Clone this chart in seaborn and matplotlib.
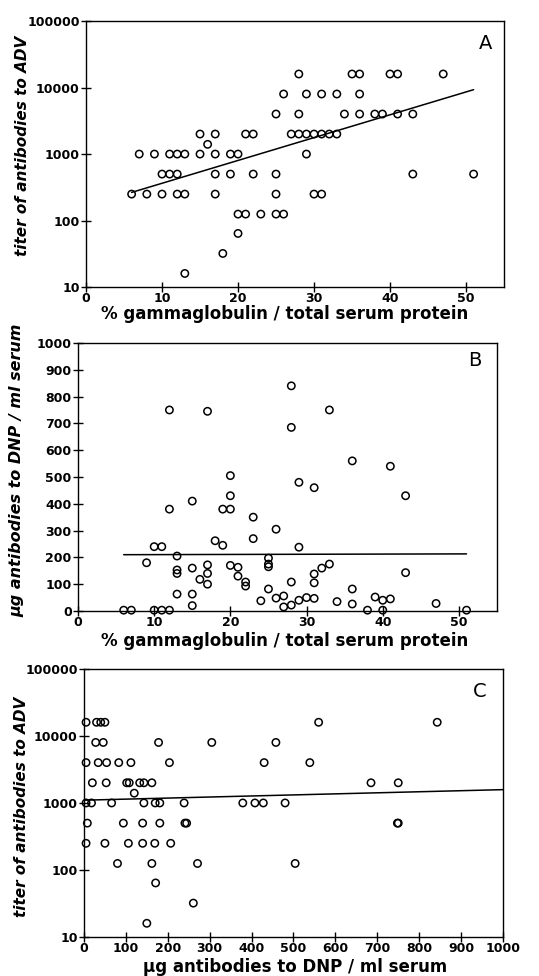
import numpy as np
import pandas as pd
import matplotlib
matplotlib.use("Agg")
import matplotlib.pyplot as plt
import seaborn as sns
from matplotlib.ticker import FixedLocator, NullLocator

# ---------------- data ----------------
# Panel A: % gammaglobulin vs titer of antibodies to ADV
a_gamma = [28, 35, 36, 40, 41, 47,
           26, 29, 31, 33, 36,
           25, 28, 34, 36, 38, 39, 41, 43,
           15, 17, 21, 22, 27, 28, 29, 30, 31, 32, 33,
           16,
           7, 9, 11, 12, 13, 15, 17, 19, 20, 29,
           10, 11, 12, 17, 19, 22, 25, 43, 51,
           6, 8, 10, 12, 13, 17, 25, 30, 31,
           20, 21, 23, 25, 26,
           20, 18, 13]
a_titer = [16000] * 6 + [8000] * 5 + [4000] * 8 + [2000] * 11 + [1400] + \
          [1000] * 10 + [500] * 9 + [250] * 9 + [125] * 5 + [64, 32, 16]
a_fit_x = [6, 51]
a_fit_y = [265, 9300]

# Panel B: % gammaglobulin vs ug antibodies to DNP / ml serum
b_gamma = [12, 17, 28, 33, 28, 36, 41,
           20, 29, 31, 43, 20, 15, 12, 19, 20, 23, 26, 18, 19, 23,
           10, 11, 29, 13, 9, 25, 25, 25, 15, 17, 17, 17, 16, 20, 21, 21,
           13, 13, 22, 22, 33, 32, 31, 31, 28, 43, 13, 15, 25, 36, 26, 27,
           30, 31, 29, 24, 34, 39, 40, 41, 36, 47, 15, 27, 28,
           6, 7, 10, 11, 12, 38, 40, 51]
b_dnp = [750, 745, 840, 750, 685, 560, 540,
         505, 480, 460, 430, 430, 410, 380, 380, 380, 350, 305, 262, 245, 270,
         240, 240, 238, 205, 180, 197, 175, 165, 160, 172, 140, 100, 118, 170, 163, 130,
         153, 140, 108, 93, 175, 160, 138, 105, 108, 143, 63, 63, 82, 82, 48, 56,
         50, 47, 40, 38, 35, 52, 40, 45, 26, 28, 20, 15, 22,
         3, 3, 3, 3, 3, 3, 3, 3]
b_fit_x = [6, 51]
b_fit_y = [210, 213]

# Panel C: ug antibodies to DNP vs titer of antibodies to ADV
c_dnp = [5, 30, 40, 50, 560, 843,
         28, 46, 178, 305, 458,
         5, 34, 54, 83, 112, 204, 430, 539,
         20, 53, 102, 108, 133, 143, 162, 685, 750,
         120,
         5, 18, 66, 143, 170, 181, 239, 379, 408, 428, 480,
         8, 94, 140, 181, 241, 245, 748, 750,
         5, 50, 106, 140, 169, 207,
         80, 162, 271, 504,
         171, 261, 150]
c_titer = [16000] * 6 + [8000] * 5 + [4000] * 8 + [2000] * 9 + [1400] + \
          [1000] * 11 + [500] * 8 + [250] * 6 + [125] * 4 + [64, 32, 16]
c_fit_x = [0, 1000]
c_fit_y = [1100, 1580]

log_ticks = [10, 100, 1000, 10000, 100000]
log_tick_labels = ["10", "100", "1000", "10000", "100000"]
gamma_ticks = [0, 10, 20, 30, 40, 50]
dnp_ticks = list(range(0, 1001, 100))

xlabel_gamma = "% gammaglobulin / total serum protein"
ylabel_titer = "titer of antibodies to ADV"
label_dnp = "µg antibodies to DNP / ml serum"

# ---------------- style ----------------
sns.set_theme(style="ticks")
plt.rcParams['font.family'] = ['DejaVu Sans']
plt.rcParams['axes.linewidth'] = 1.0

fig = plt.figure(figsize=(5.39, 9.76), dpi=100)
fig.patch.set_facecolor("white")

axA = fig.add_axes([0.1596, 0.7059, 0.7755, 0.2725])
axB = fig.add_axes([0.1447, 0.3740, 0.7774, 0.2746])
axC = fig.add_axes([0.1558, 0.0400, 0.7774, 0.2746])

sc_kw = dict(marker="o", s=28, facecolor="none", edgecolor="black",
             linewidth=1.1, clip_on=False, legend=False, zorder=3)
ln_kw = dict(color="black", linewidth=1.1, legend=False)

dfA = pd.DataFrame({"x": a_gamma, "y": a_titer})
dfB = pd.DataFrame({"x": b_gamma, "y": b_dnp})
dfC = pd.DataFrame({"x": c_dnp, "y": c_titer})

sns.scatterplot(data=dfA, x="x", y="y", ax=axA, **sc_kw)
sns.lineplot(x=a_fit_x, y=a_fit_y, ax=axA, **ln_kw)
sns.scatterplot(data=dfB, x="x", y="y", ax=axB, **sc_kw)
sns.lineplot(x=b_fit_x, y=b_fit_y, ax=axB, **ln_kw)
sns.scatterplot(data=dfC, x="x", y="y", ax=axC, **sc_kw)
sns.lineplot(x=c_fit_x, y=c_fit_y, ax=axC, **ln_kw)

for ax in (axA, axC):
    ax.set_yscale("log")
    ax.set_ylim(10, 100000)
    ax.yaxis.set_major_locator(FixedLocator(log_ticks))
    ax.set_yticklabels(log_tick_labels)
    ax.yaxis.set_minor_locator(NullLocator())

for ax in (axA, axB):
    ax.set_xlim(0, 55)
    ax.set_xticks(gamma_ticks)
    ax.set_xticklabels([str(t) for t in gamma_ticks])

axB.set_ylim(0, 1000)
axB.set_yticks(dnp_ticks)
axB.set_yticklabels([str(t) for t in dnp_ticks])
axC.set_xlim(0, 1000)
axC.set_xticks(dnp_ticks)
axC.set_xticklabels([str(t) for t in dnp_ticks])

for ax in (axA, axB, axC):
    ax.set_facecolor("white")
    for sp in ax.spines.values():
        sp.set_visible(True)
        sp.set_color("black")
        sp.set_linewidth(1.0)
    ax.tick_params(axis="both", which="major", direction="inout", length=7,
                   width=1.0, color="black", labelsize=9, pad=1,
                   labelcolor="black")
    ax.tick_params(axis="x", pad=0)
    for lab in ax.get_xticklabels() + ax.get_yticklabels():
        lab.set_fontweight("bold")
    ax.grid(False)

lab_kw = dict(fontsize=12, fontweight="bold", color="black")
ylab_kw = dict(fontsize=11, fontweight="bold", style="italic", color="black")

axA.set_xlabel(xlabel_gamma, **lab_kw)
axA.set_ylabel(ylabel_titer, **ylab_kw)
axB.set_xlabel(xlabel_gamma, **lab_kw)
axB.set_ylabel(label_dnp, fontsize=11.5, fontweight="bold", style="italic",
               color="black")
axC.set_xlabel(label_dnp, **lab_kw)
axC.set_ylabel(ylabel_titer, **ylab_kw)

for ax, xc, xy, yx, yy in ((axA, 0.476, -0.100, -0.153, 0.53),
                           (axB, 0.494, -0.113, -0.145, 0.526),
                           (axC, 0.504, -0.113, -0.148, 0.485)):
    ax.xaxis.label.set_va("center")
    ax.yaxis.label.set_va("center")
    ax.xaxis.set_label_coords(xc, xy)
    ax.yaxis.set_label_coords(yx, yy)

axA.text(0.955, 0.917, "A", transform=axA.transAxes, ha="center", va="center",
         fontsize=14, color="black")
axB.text(0.947, 0.933, "B", transform=axB.transAxes, ha="center", va="center",
         fontsize=14, color="black")
axC.text(0.945, 0.914, "C", transform=axC.transAxes, ha="center", va="center",
         fontsize=14, color="black")

fig.savefig("out.png", dpi=100, facecolor="white")
